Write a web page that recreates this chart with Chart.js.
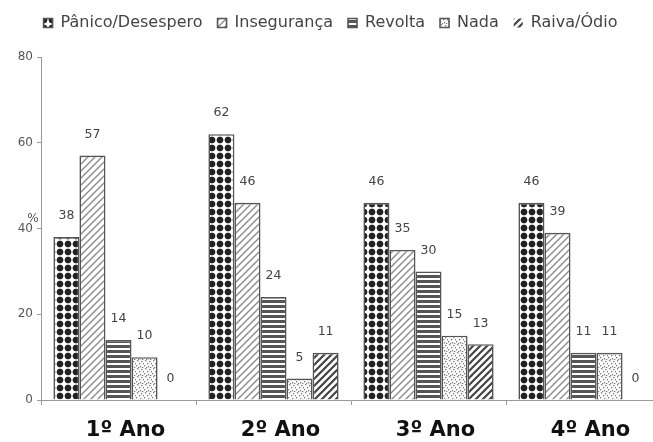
<!DOCTYPE html>
<html lang="pt">
<head>
<meta charset="UTF-8">
<title>Reações por ano</title>
<script src="https://cdn.jsdelivr.net/npm/chart.js"></script>
<style>
  html, body { margin: 0; padding: 0; background: #fff; overflow: hidden; width: 653px; height: 442px; }
  #wrap { width: 661px; height: 442px; }
</style>
</head>
<body>
<div id="wrap"><canvas id="chart"></canvas></div>
<script>
// categorias e séries (%)
const anos = ['1º Ano', '2º Ano', '3º Ano', '4º Ano'];
const seriesNomes = ['Pânico/Desespero', 'Insegurança', 'Revolta', 'Nada', 'Raiva/Ódio'];
const panico = [38, 62, 46, 46];
const inseguranca = [57, 46, 35, 39];
const revolta = [14, 24, 30, 11];
const nada = [10, 5, 15, 11];
const raiva = [0, 11, 13, 0];
const yTicks = [0, 20, 40, 60, 80];

const FONTE = '"DejaVu Sans", "Liberation Sans", Arial, sans-serif';
const ctx = document.getElementById('chart').getContext('2d');

// texturas das barras (impressão em preto e branco)
function tile(w, h, draw) {
  const c = document.createElement('canvas');
  c.width = w; c.height = h;
  const g = c.getContext('2d');
  g.fillStyle = '#fff';
  g.fillRect(0, 0, w, h);
  draw(g, w, h);
  return ctx.createPattern(c, 'repeat');
}
function diag(g, s, color, lw) {
  g.strokeStyle = color; g.lineWidth = lw;
  g.beginPath();
  g.moveTo(-1, s + 1); g.lineTo(s + 1, -1);
  g.moveTo(-1, 1); g.lineTo(1, -1);
  g.moveTo(s - 1, s + 1); g.lineTo(s + 1, s - 1);
  g.stroke();
}
const texPanico = tile(8, 8, (g) => {
  g.fillStyle = '#222';
  g.beginPath();
  g.moveTo(4, 0.4); g.lineTo(7.6, 4); g.lineTo(4, 7.6); g.lineTo(0.4, 4);
  g.closePath(); g.fill();
  g.beginPath(); g.arc(4, 4, 3.2, 0, Math.PI * 2); g.fill();
});
const texInseg = tile(7, 7, (g, s) => diag(g, s, '#8a8a8a', 1.4));
const texRevolta = tile(5, 5, (g) => {
  g.fillStyle = '#555';
  g.fillRect(0, 0, 5, 3);
});
const texNada = tile(8, 8, (g) => {
  g.fillStyle = '#777';
  [[1, 0], [5, 1], [3, 3], [7, 3], [0, 5], [4, 6], [6, 7], [2, 7]].forEach(p => g.fillRect(p[0], p[1], 1.3, 1.3));
});
const texRaiva = tile(7, 7, (g, s) => diag(g, s, '#444', 2.2));

const texturas = [texPanico, texInseg, texRevolta, texNada, texRaiva];
const valores = [panico, inseguranca, revolta, nada, raiva];

const datasets = seriesNomes.map((nome, i) => ({
  label: nome,
  data: valores[i],
  backgroundColor: texturas[i],
  borderColor: '#555',
  borderWidth: (c) => (c.raw === 0 ? 0 : 1.6),
  categoryPercentage: 0.84,
  barPercentage: 1.0
}));

// rótulos de valor acima das barras e o "%" do eixo
const rotulos = {
  id: 'rotulos',
  afterDatasetsDraw(chart) {
    const g = chart.ctx;
    g.save();
    g.font = '12.5px ' + FONTE;
    g.fillStyle = '#444';
    g.textAlign = 'center';
    g.textBaseline = 'middle';
    chart.data.datasets.forEach((ds, i) => {
      chart.getDatasetMeta(i).data.forEach((bar, j) => {
        g.fillText(String(ds.data[j]), bar.x, bar.y - 21);
      });
    });
    const y = chart.scales.y;
    g.font = '12px ' + FONTE;
    g.fillStyle = '#555';
    g.fillText('%', y.right - 8, y.getPixelForValue(40) - 10);
    g.restore();
  }
};

// espaço extra entre a legenda e a área do gráfico
const folgaLegenda = {
  id: 'folgaLegenda',
  afterInit(chart) {
    const lg = chart.legend;
    if (!lg) return;
    const fitOrig = lg.fit.bind(lg);
    lg.fit = function () { fitOrig(); this.height += 16; };
  }
};

new Chart(ctx, {
  type: 'bar',
  data: { labels: anos, datasets: datasets },
  options: {
    responsive: true,
    maintainAspectRatio: false,
    animation: false,
    layout: { padding: { top: 0, right: 0, left: 0, bottom: 0 } },
    plugins: {
      legend: {
        position: 'top',
        labels: {
          boxWidth: 9,
          boxHeight: 9,
          padding: 15,
          color: '#444',
          font: { family: FONTE, size: 16 }
        }
      },
      tooltip: { enabled: false }
    },
    scales: {
      x: {
        offset: true,
        grid: { offset: true, drawOnChartArea: false, tickLength: 5, color: '#999' },
        border: { color: '#999' },
        ticks: {
          color: '#111',
          padding: 13,
          labelOffset: 7,
          font: { family: FONTE, size: 21, weight: 'bold' }
        },
        afterFit(s) { s.height = 42; }
      },
      y: {
        min: 0,
        max: 80,
        afterBuildTicks(s) { s.ticks = yTicks.map(v => ({ value: v })); },
        grid: { drawOnChartArea: false, tickLength: 4, color: '#999' },
        border: { color: '#999' },
        ticks: {
          color: '#555',
          padding: 4,
          font: { family: FONTE, size: 12 }
        },
        afterFit(s) { s.width = 41; }
      }
    }
  },
  plugins: [rotulos, folgaLegenda]
});
</script>
</body>
</html>
